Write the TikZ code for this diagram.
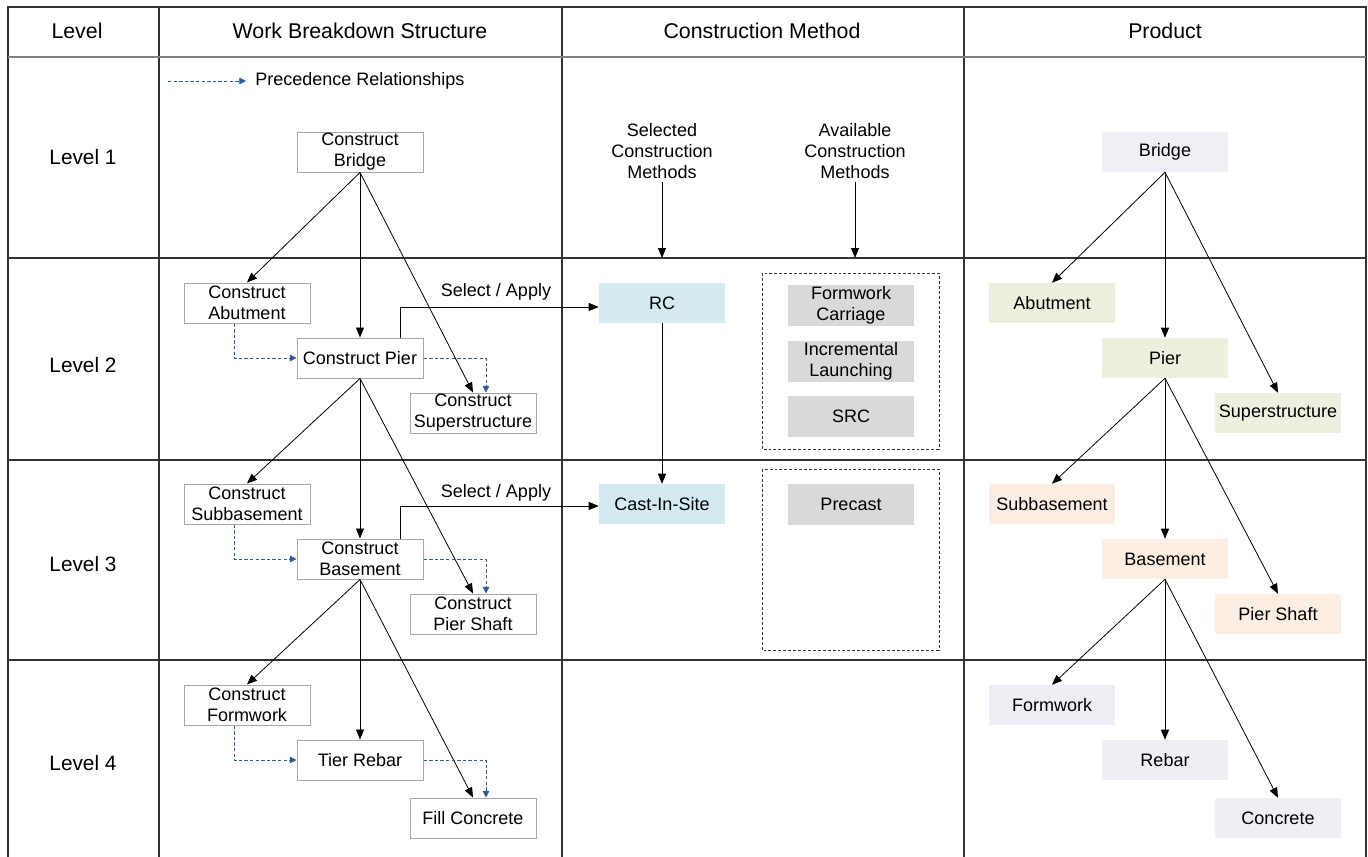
\documentclass[tikz,border=0pt]{standalone}
\usepackage{fontspec}
\setmainfont{Liberation Sans}
\usetikzlibrary{arrows.meta}
\definecolor{wbsborder}{HTML}{A6A6A6}
\definecolor{selfill}{HTML}{D3EAF0}
\definecolor{availfill}{HTML}{D9D9D9}
\definecolor{prodA}{HTML}{EEF0F6}
\definecolor{prodB}{HTML}{EBF0DF}
\definecolor{prodC}{HTML}{FCEEE3}
\definecolor{prodD}{HTML}{EFEEF4}
\definecolor{precblue}{HTML}{2E5C9A}
\definecolor{gridline}{HTML}{333333}
\definecolor{headline}{HTML}{808080}
\begin{document}
\begin{tikzpicture}[x=0.75pt,y=-0.75pt,
  every node/.style={font=\fontsize{13.5}{15.75}\selectfont, align=center, inner sep=0pt},
  box/.style={minimum width=94.5pt, minimum height=30pt},
  wbs/.style={box, draw=wbsborder, fill=white, line width=0.75pt},
  sel/.style={box, fill=selfill},
  avail/.style={box, fill=availfill, minimum height=30.75pt},
  pA/.style={box, fill=prodA},
  pB/.style={box, fill=prodB},
  pC/.style={box, fill=prodC},
  pD/.style={box, fill=prodD},
  head/.style={font=\fontsize{16}{19}\selectfont},
  lvl/.style={font=\fontsize{15.6}{19}\selectfont},
  tree/.style={-{Triangle[length=7.5pt,width=6pt]}, line width=0.6pt, black},
  prec/.style={-{Triangle[length=5pt,width=5pt]}, line width=0.6pt, precblue, dash pattern=on 2.6pt off 1.6pt},
  grp/.style={draw=gridline, line width=0.6pt, dash pattern=on 2.2pt off 1.5pt}
]
\useasboundingbox (0,0) rectangle (1368,857);
% table
\draw[gridline, line width=1pt] (8,857) -- (8,7) -- (1366,7) -- (1366,857);
\foreach \xx in {159,562,964} \draw[gridline, line width=0.8pt] (\xx,7) -- (\xx,857);
\draw[headline, line width=1.6pt] (8,57) -- (1366,57);
\foreach \yy in {258,460,660} \draw[gridline, line width=0.8pt] (8,\yy) -- (1366,\yy);
% headers
\node[head] (hL) at (77,31) {Level};
\node[head] (hW) at (360,31) {Work Breakdown Structure};
\node[head] (hC) at (762,31) {Construction Method};
\node[head] (hP) at (1165,31) {Product};
\node[lvl] (l1) at (83,157) {Level 1};
\node[lvl] (l2) at (83,365) {Level 2};
\node[lvl] (l3) at (83,564) {Level 3};
\node[lvl] (l4) at (83,763) {Level 4};
% legend
\coordinate (lg1) at (168,81);
\coordinate (lg2) at (246,81);
\draw[prec] (lg1) -- (lg2);
\node[anchor=west] (lgt) at (255,81) {Precedence Relationships};
% WBS
\node[wbs] (cb) at (360,152) {Construct\\Bridge};
\node[wbs] (ca) at (247,303) {Construct\\Abutment};
\node[wbs] (cp) at (360,358) {Construct Pier};
\node[wbs] (cs) at (473,413) {Construct\\Superstructure};
\node[wbs] (csb) at (247,504) {Construct\\Subbasement};
\node[wbs] (cba) at (360,559) {Construct\\Basement};
\node[wbs] (cps) at (473,614) {Construct\\Pier Shaft};
\node[wbs] (cf) at (247,705) {Construct\\Formwork};
\node[wbs] (tr) at (360,760) {Tier Rebar};
\node[wbs] (fc) at (473,818) {Fill Concrete};
\foreach \a/\b in {cb/ca,cb/cp,cb/cs,cp/csb,cp/cba,cp/cps,cba/cf,cba/tr,cba/fc}
  \draw[tree] (\a.south) -- (\b.north);
\draw[prec] ([xshift=-9.75pt]ca.south) |- (cp.west);
\draw[prec] (cp.east) -| ([xshift=9.75pt]cs.north);
\draw[prec] ([xshift=-9.75pt]csb.south) |- (cba.west);
\draw[prec] (cba.east) -| ([xshift=9.75pt]cps.north);
\draw[prec] ([xshift=-9.75pt]cf.south) |- (tr.west);
\draw[prec] (tr.east) -| ([xshift=9.75pt]fc.north);
% Construction method
\node (selt) at (662,151) {Selected\\Construction\\Methods};
\node (avt) at (855,151) {Available\\Construction\\Methods};
\coordinate (selend) at (662,258);
\coordinate (avend) at (855,258);
\draw[tree] ([yshift=-2pt]selt.south) -- (selend);
\draw[tree] ([yshift=-2pt]avt.south) -- (avend);
\node[sel] (rc) at (662,303) {RC};
\node[sel] (cis) at (662,504) {Cast-In-Site};
\draw[tree] (rc.south) -- (cis.north);
\draw[tree] ([xshift=30pt]cp.north) |- ([yshift=-3pt]rc.west);
\draw[tree] ([xshift=30pt]cba.north) |- ([yshift=-1.5pt]cis.west);
\node (sa1) at (496,292) {Select / Apply};
\node (sa2) at (496,493) {Select / Apply};
\draw[grp] (762,273) rectangle (939,449);
\draw[grp] (762,469) rectangle (939,650);
\node[avail] (fwc) at (851,305.5) {Formwork\\Carriage};
\node[avail] (inc) at (851,361.5) {Incremental\\Launching};
\node[avail] (src) at (851,416.5) {SRC};
\node[avail] (pre) at (851,504) {Precast};
% Product
\node[pA] (pbr) at (1165,152) {Bridge};
\node[pB] (pab) at (1052,303) {Abutment};
\node[pB] (ppi) at (1165,358) {Pier};
\node[pB] (psu) at (1278,413) {Superstructure};
\node[pC] (psb) at (1052,504) {Subbasement};
\node[pC] (pba) at (1165,559) {Basement};
\node[pC] (pps) at (1278,614) {Pier Shaft};
\node[pD] (pfo) at (1052,705) {Formwork};
\node[pD] (pre2) at (1165,760) {Rebar};
\node[pD] (pco) at (1278,818) {Concrete};
\foreach \a/\b in {pbr/pab,pbr/ppi,pbr/psu,ppi/psb,ppi/pba,ppi/pps,pba/pfo,pba/pre2,pba/pco}
  \draw[tree] (\a.south) -- (\b.north);
\end{tikzpicture}
\end{document}
